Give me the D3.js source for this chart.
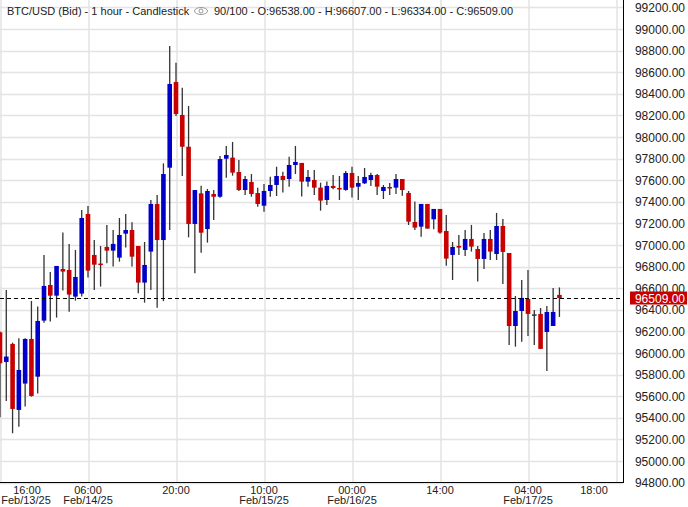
<!DOCTYPE html>
<html><head><meta charset="utf-8">
<script src="https://cdn.jsdelivr.net/npm/d3@7"></script>
<style>body{margin:0;background:#fff}svg{display:block;font-family:"Liberation Sans",Arial,sans-serif}</style>
</head><body><svg id="c" width="688" height="507"></svg>
<script>
// index 0 = Feb/13/25 16:00, hourly
const opens=[96192,95917,96084,95473,95717,96130,95781,96300,96630,96531,96778,96769,96522,96550,97287,96908,96828,96982,96948,96883,97105,97139,96991,96652,96939,97380,97046,97716,98509,98204,97910,97195,97478,97148,97472,97447,97799,97809,97676,97509,97583,97481,97364,97500,97556,97639,97611,97741,97760,97587,97602,97531,97417,97547,97528,97510,97667,97540,97571,97602,97648,97500,97537,97531,97611,97482,97213,97170,97380,97238,97334,97130,96908,96991,96954,97056,96963,96871,97056,96917,97176,96926,96250,96389,96500,96358,96362,96195,96250,96538];
const highs=[96200,96584,96096,96136,96136,96482,96430,96908,96750,96806,97115,97010,96954,97324,97361,97047,96991,97186,97139,97250,97287,97210,96991,97028,97417,97463,97756,98842,98688,98457,98287,97509,97549,97519,97509,97824,97917,97954,97787,97639,97657,97531,97565,97633,97725,97679,97818,97917,97760,97695,97695,97577,97587,97648,97639,97685,97725,97639,97713,97670,97658,97556,97574,97658,97611,97500,97402,97380,97380,97334,97334,97278,97028,97093,97139,97186,96991,97111,97139,97297,97241,96926,96528,96676,96769,96398,96417,96436,96602,96607];
const lows=[95405,95556,95257,95318,95504,95596,95624,96281,96291,96328,96578,96383,96485,96522,96700,96584,96615,96831,96800,96846,96976,96800,96553,96466,96584,96420,96480,97139,98194,97639,97071,96738,96929,97022,97232,97438,97623,97642,97500,97463,97447,97355,97309,97447,97454,97485,97540,97657,97448,97540,97463,97318,97371,97516,97417,97503,97439,97417,97565,97547,97463,97426,97463,97472,97457,97185,97139,97077,97152,97145,97105,96809,96676,96908,96899,96939,96661,96778,96861,96861,96639,96075,96059,96105,96158,96075,96038,95834,96250,96334];
const closes=[95905,95967,95482,95843,96130,95602,96297,96621,96531,96806,96754,96541,96704,97250,96763,96818,96818,96948,97010,97093,97139,96892,96652,96815,97380,97046,97657,98491,98213,97910,97195,97509,97114,97500,97447,97796,97833,97670,97509,97611,97472,97380,97500,97556,97639,97602,97741,97769,97587,97630,97531,97411,97547,97528,97519,97667,97531,97574,97630,97648,97540,97537,97528,97611,97509,97216,97161,97380,97152,97334,97115,96874,96982,96976,97056,96985,96871,97056,96939,97176,96936,96250,96389,96510,96362,96358,96038,96380,96380,96509];
const hourTicks=[{i:0,t:"16:00",d:"Feb/13/25"},{i:14,t:"06:00",d:"Feb/14/25"},{i:28,t:"20:00",d:""},{i:42,t:"10:00",d:"Feb/15/25"},{i:56,t:"00:00",d:"Feb/16/25"},{i:70,t:"14:00",d:""},{i:84,t:"04:00",d:"Feb/17/25"},{i:98,t:"18:00",d:""}];
const priceTicks=d3.range(94800,99201,200);
const last=96509;
const title="BTC/USD (Bid) - 1 hour - Candlestick";
const title2="90/100 - O:96538.00 - H:96607.00 - L:96334.00 - C:96509.00";

const svg=d3.select("#c");
const W=623,B=482;
const x=d3.scaleLinear().domain([0,14]).range([0,88]);
const y=d3.scaleLinear().domain([94800,99200]).range([482.6,7.4]);
const g=svg.append("g");
g.selectAll(".hg").data(priceTicks).join("line").attr("x1",0).attr("x2",W).attr("y1",d=>Math.round(y(d))+0.5).attr("y2",d=>Math.round(y(d))+0.5).attr("stroke","#e3e3e3").attr("stroke-width",1.5);
g.selectAll(".vg").data(hourTicks).join("line").attr("x1",d=>x(d.i)+1).attr("x2",d=>x(d.i)+1).attr("y1",0).attr("y2",B).attr("stroke","#e3e3e3").attr("stroke-width",1.5);
g.append("line").attr("x1",W+0.5).attr("x2",W+0.5).attr("y1",0).attr("y2",B).attr("stroke","#000");
g.append("line").attr("x1",0).attr("x2",W+1).attr("y1",B+0.5).attr("y2",B+0.5).attr("stroke","#000");
g.selectAll(".yl").data(priceTicks).join("text").attr("x",685).attr("y",d=>y(d)+4.5).attr("text-anchor","end").attr("font-size",12).attr("fill","#222").text(d=>d.toFixed(2));
g.selectAll(".xl").data(hourTicks).join("text").attr("x",d=>Math.min(594,Math.max(27,x(d.i)))).attr("y",494).attr("text-anchor","middle").attr("font-size",11).attr("fill","#222").text(d=>d.t);
g.selectAll(".xd").data(hourTicks.filter(d=>d.d)).join("text").attr("x",d=>Math.max(26,x(d.i))).attr("y",504).attr("text-anchor","middle").attr("font-size",11).attr("fill","#222").text(d=>d.d);
const idx=d3.range(opens.length);
g.selectAll(".wk").data(idx).join("line").attr("x1",i=>x(i)).attr("x2",i=>x(i)).attr("y1",i=>y(highs[i])).attr("y2",i=>y(lows[i])).attr("stroke","#333").attr("stroke-width",1.3);
g.selectAll(".bd").data(idx).join("rect").attr("x",i=>x(i)-2.3).attr("width",4.6)
 .attr("y",i=>y(Math.max(opens[i],closes[i]))).attr("height",i=>Math.max(1.5,Math.abs(y(opens[i])-y(closes[i]))))
 .attr("fill",i=>closes[i]>opens[i]?"#0000c8":(closes[i]<opens[i]?"#c80000":"#333"));
g.append("line").attr("x1",0).attr("x2",W).attr("y1",Math.round(y(last))+0.5).attr("y2",Math.round(y(last))+0.5).attr("stroke","#000").attr("stroke-dasharray","4,3");
g.append("rect").attr("x",630).attr("y",y(last)-6.5).attr("width",57).attr("height",13).attr("fill","#c80000");
g.append("text").attr("x",685).attr("y",y(last)+4.5).attr("text-anchor","end").attr("font-size",12).attr("fill","#fff").text(last.toFixed(2));
svg.append("text").attr("x",7).attr("y",15).attr("font-size",11).attr("fill","#222").text(title);
svg.append("ellipse").attr("cx",201).attr("cy",11).attr("rx",6.5).attr("ry",3.5).attr("fill","none").attr("stroke","#999");
svg.append("circle").attr("cx",201).attr("cy",11).attr("r",2).attr("fill","none").attr("stroke","#999");
svg.append("text").attr("x",214).attr("y",15).attr("font-size",11).attr("fill","#222").text(title2);
</script></body></html>
